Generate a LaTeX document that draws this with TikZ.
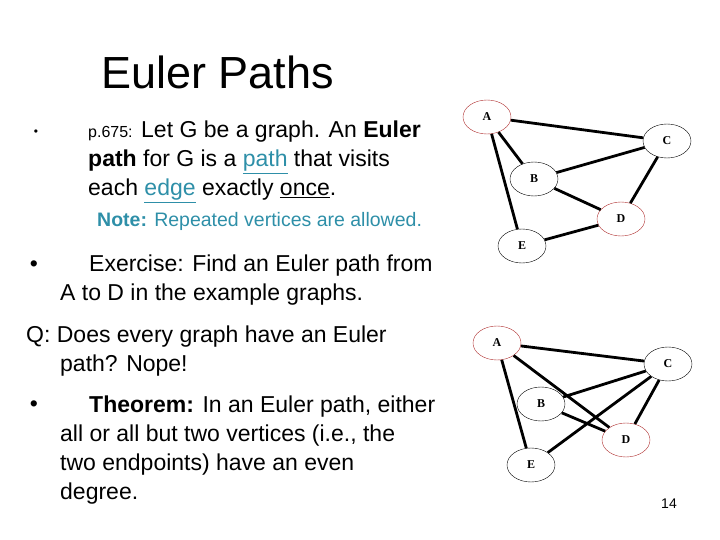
\documentclass[tikz,border=0pt]{standalone}
\usepackage{fontspec}
\usetikzlibrary{shapes.geometric}
\setmainfont{Liberation Sans}
\newfontfamily\serifg{Liberation Serif}
\definecolor{lnk}{HTML}{2E8FA8}
\definecolor{ecol}{HTML}{B03030}
\begin{document}
\begin{tikzpicture}[x=1pt,y=-1pt,
  vx/.style={draw,ellipse,minimum width=48pt,minimum height=34pt,inner sep=0pt,fill=white,font=\serifg\bfseries\fontsize{12}{12}\selectfont},
  vr/.style={vx,draw=ecol},
  ed/.style={line width=2.8pt},
  tx/.style={anchor=west,align=left,inner sep=0pt,font=\fontsize{23}{29}\selectfont}]
\useasboundingbox (0,0) rectangle (720,540);
\node[anchor=west,inner sep=0,font=\fontsize{45}{45}\selectfont] (t) at (101,72) {Euler Paths};
\node[inner sep=0,font=\fontsize{12}{12}\selectfont] (b1) at (36,133) {•};
\node[tx] (p1) at (88,162) {{\fontsize{16}{16}\selectfont p.675:} Let G be a graph. An \textbf{Euler}\\\textbf{path} for G is a \textcolor{lnk}{\underline{path}} that visits\\each \textcolor{lnk}{\underline{edge}} exactly \underline{once}.};
\node[anchor=west,inner sep=0,font=\fontsize{19.5}{19.5}\selectfont] (n) at (97,221) {\textcolor{lnk}{\textbf{Note:} Repeated vertices are allowed.}};
\node[inner sep=0,font=\fontsize{23}{23}\selectfont] (b2) at (34,266) {•};
\node[inner sep=0,font=\fontsize{23}{23}\selectfont] (b4) at (34,406) {•};
\node[tx] (p2) at (60,280) {\hspace{29pt}Exercise: Find an Euler path from\\A to D in the example graphs.};
\node[tx,anchor=west] (p3) at (26,351) {Q: Does every graph have an Euler\\\hspace{34pt}path? Nope!};
\node[tx] (p4) at (60,450) {\hspace{29pt}\textbf{Theorem:} In an Euler path, either\\all or all but two vertices (i.e., the\\two endpoints) have an even\\degree.};
\node[font=\fontsize{14}{14}\selectfont] (pg) at (669,504) {14};
% graph 1
\node[vr] (A) at (487,117) {A};
\node[vx] (C) at (667,141) {C};
\node[vx] (B) at (534,179) {B};
\node[vr] (D) at (621,219) {D};
\node[vx] (E) at (522,246) {E};
\draw[ed] (A)--(C) (A)--(B) (A)--(E) (B)--(C) (B)--(D) (C)--(D) (D)--(E);
% graph 2
\node[vr] (A2) at (497,343) {A};
\node[vx] (C2) at (668,364) {C};
\node[vx] (B2) at (541,404) {B};
\node[vr] (D2) at (626,440) {D};
\node[vx] (E2) at (531,465) {E};
\draw[ed] (A2)--(C2) (A2)--(D2) (A2)--(E2) (B2)--(C2) (B2)--(D2) (C2)--(E2) (C2)--(D2);
\end{tikzpicture}
\end{document}
